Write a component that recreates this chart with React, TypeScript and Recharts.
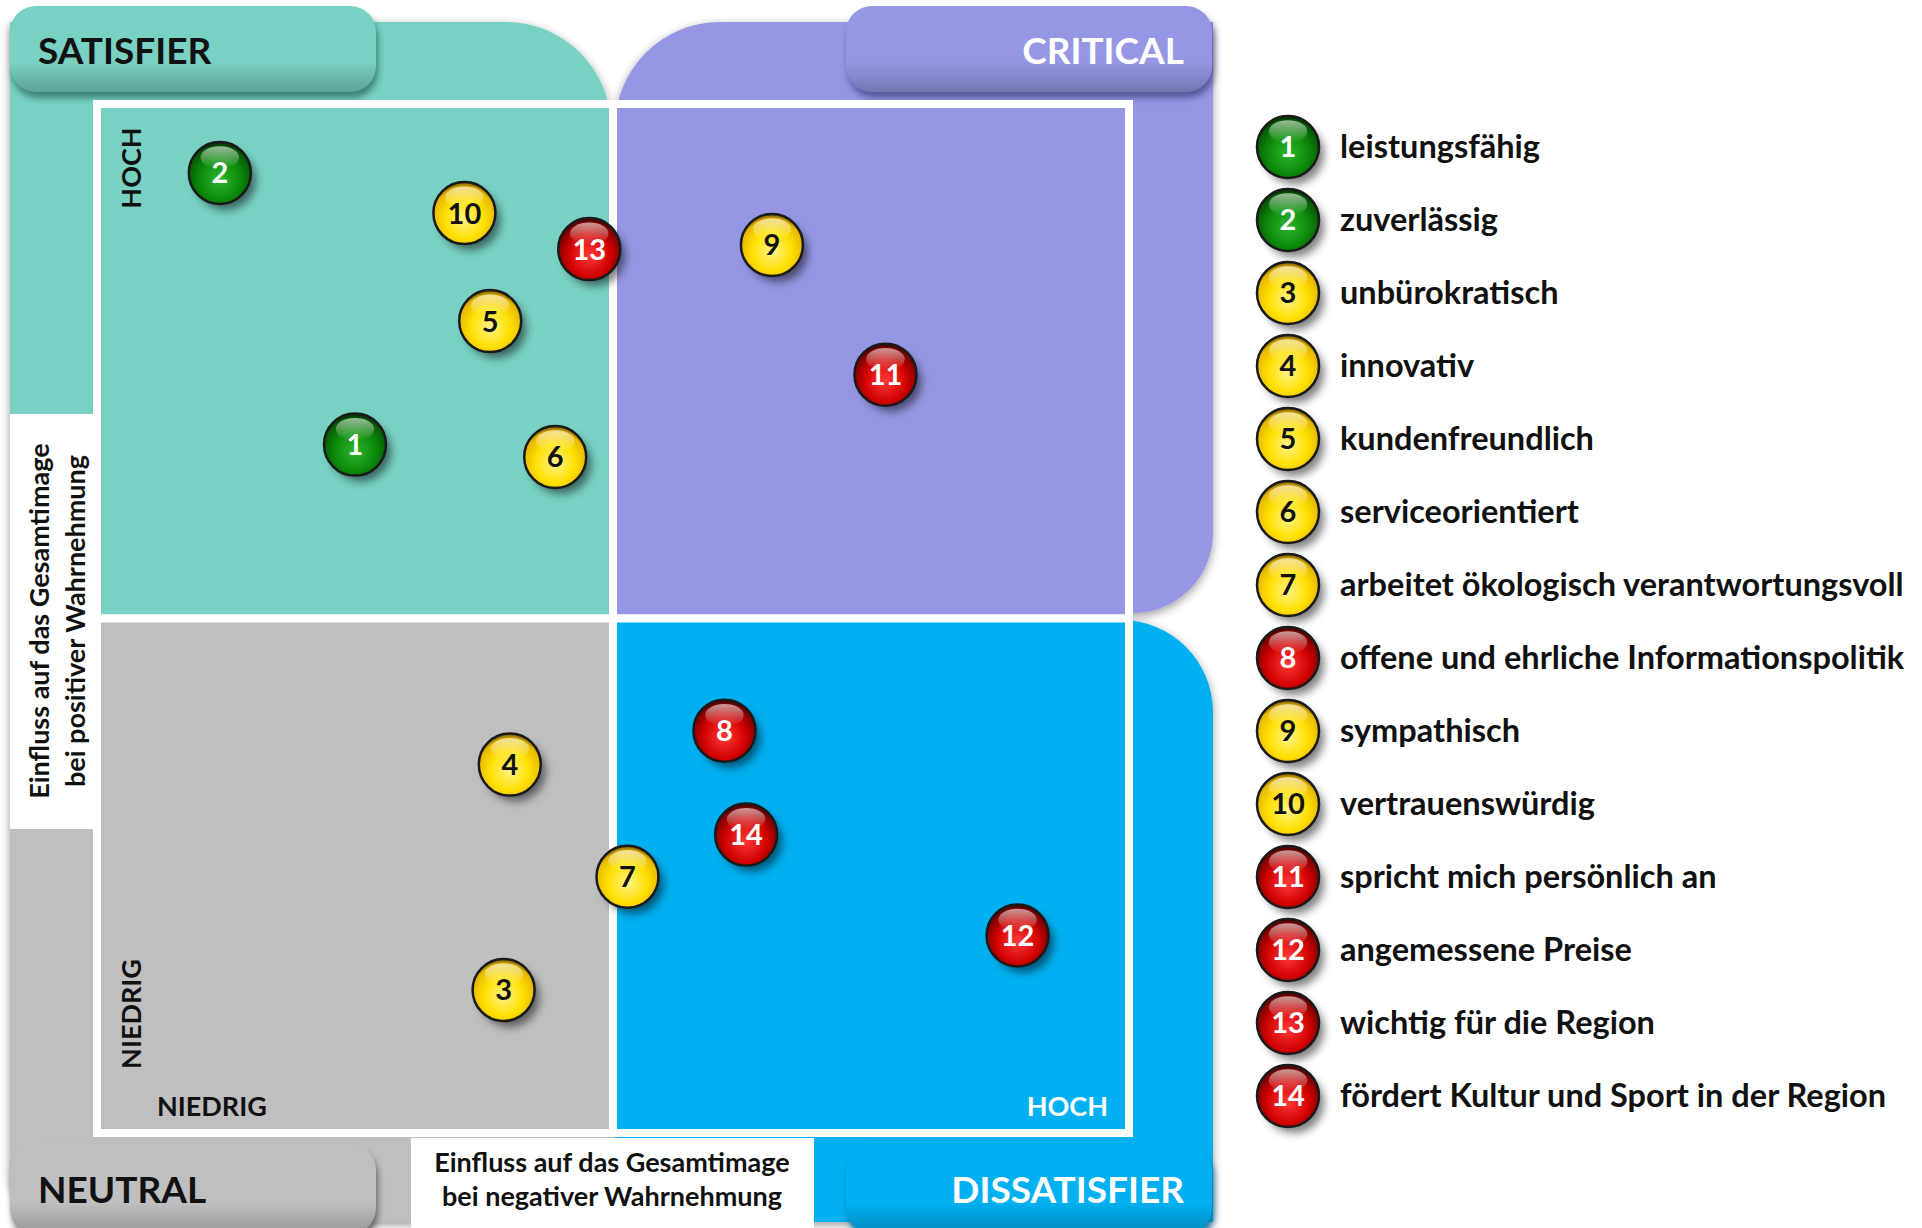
import React from 'react';
import { ScatterChart, Scatter, XAxis, YAxis, ReferenceArea, Legend } from 'recharts';

// ---------- data ----------
const itemIds = [1, 2, 3, 4, 5, 6, 7, 8, 9, 10, 11, 12, 13, 14];
const itemLabels = [
  'leistungsfähig',
  'zuverlässig',
  'unbürokratisch',
  'innovativ',
  'kundenfreundlich',
  'serviceorientiert',
  'arbeitet ökologisch verantwortungsvoll',
  'offene und ehrliche Informationspolitik',
  'sympathisch',
  'vertrauenswürdig',
  'spricht mich persönlich an',
  'angemessene Preise',
  'wichtig für die Region',
  'fördert Kultur und Sport in der Region',
];
const itemColors = ['green', 'green', 'yellow', 'yellow', 'yellow', 'yellow', 'yellow', 'red', 'yellow', 'yellow', 'red', 'red', 'red', 'red'];
// x: Einfluss bei negativer Wahrnehmung, y: Einfluss bei positiver Wahrnehmung (0..10)
const xValues = [2.5, 1.19, 3.94, 4.0, 3.81, 4.44, 5.14, 6.08, 6.54, 3.56, 7.64, 8.92, 4.77, 6.29];
const yValues = [6.69, 9.33, 1.39, 3.58, 7.89, 6.57, 2.49, 3.91, 8.63, 8.94, 7.37, 1.92, 8.59, 2.9];

const quadrantNames = ['SATISFIER', 'CRITICAL', 'NEUTRAL', 'DISSATISFIER'];
const levelLabels = ['NIEDRIG', 'HOCH'];
const xAxisTitle = ['Einfluss auf das Gesamtimage', 'bei negativer Wahrnehmung'];
const yAxisTitle = ['Einfluss auf das Gesamtimage', 'bei positiver Wahrnehmung'];
const axisDomain = [0, 10];
const axisMid = 5;

const data = itemIds.map((id, i) => ({ id, x: xValues[i], y: yValues[i], color: itemColors[i], label: itemLabels[i] }));

// ---------- style ----------
const W = 1922;
const H = 1228;
const FONT = 'Lato, "Open Sans", sans-serif';
const TEAL = '#78D1C3';
const PURPLE = '#9597E4';
const GRAY = '#BFBFBF';
const BLUE = '#00B0F0';
const BALL_R = 31;
const numberFill: Record<string, string> = { green: '#ffffff', yellow: '#111111', red: '#ffffff' };

function Ball({ cx, cy, id, color }: { cx: number; cy: number; id: number; color: string }) {
  return (
    <g>
      <circle cx={cx + 6} cy={cy + 7} r={BALL_R - 1} fill="#000" opacity={0.5} filter="url(#ballBlur)" />
      <circle cx={cx} cy={cy} r={BALL_R} fill={`url(#ball-${color})`} stroke="#1a1a1a" strokeWidth={2.5} />
      <ellipse cx={cx} cy={cy - BALL_R * 0.5} rx={BALL_R * 0.62} ry={BALL_R * 0.36} fill="url(#ballHL)" />
      <text
        x={cx}
        y={cy}
        dy="0.36em"
        textAnchor="middle"
        fontFamily={FONT}
        fontWeight={700}
        fontSize={29}
        fill={numberFill[color]}
      >
        {id}
      </text>
    </g>
  );
}

const renderLegend = () => (
  <svg width={672} height={1040} style={{ overflow: 'visible', display: 'block' }}>
    {data.map((d, i) => (
      <g key={d.id}>
        <Ball cx={38} cy={42 + i * 73} id={d.id} color={d.color} />
        <text x={90} y={42 + i * 73} dy="0.35em" fontFamily={FONT} fontWeight={700} fontSize={32.5} fill="#111">
          {d.label}
        </text>
      </g>
    ))}
  </svg>
);

function LabelBox({ x, y, w, h, fill, dark }: { x: number; y: number; w: number; h: number; fill: string; dark: string }) {
  return (
    <g>
      <rect x={x + 2} y={y + 6} width={w} height={h} rx={26} fill={dark} opacity={0.8} filter="url(#boxBlur)" />
      <rect x={x} y={y} width={w} height={h} rx={26} fill={fill} />
      <rect x={x} y={y} width={w} height={h} rx={26} fill="url(#bevel)" />
    </g>
  );
}

export default function App() {
  const txt = { fontFamily: FONT, fontWeight: 700 } as const;
  return (
    <div style={{ position: 'absolute', left: 0, top: 0, width: W, height: H, background: '#fff', overflow: 'hidden' }}>
      {/* back layer */}
      <svg width={W} height={H} style={{ position: 'absolute', left: 0, top: 0 }}>
        <defs>
          <filter id="outerShadow" x="-10%" y="-10%" width="120%" height="120%">
            <feDropShadow dx="0" dy="3" stdDeviation="5" floodColor="#000" floodOpacity="0.4" />
          </filter>
          <filter id="boxBlur" x="-10%" y="-20%" width="120%" height="140%">
            <feGaussianBlur stdDeviation="3" />
          </filter>
          <filter id="ballBlur" x="-50%" y="-50%" width="200%" height="200%">
            <feGaussianBlur stdDeviation="4" />
          </filter>
          <linearGradient id="bevel" x1="0" y1="0" x2="0" y2="1">
            <stop offset="0.65" stopColor="#000" stopOpacity="0" />
            <stop offset="1" stopColor="#000" stopOpacity="0.22" />
          </linearGradient>
          <radialGradient id="ball-green" cx="50%" cy="60%" r="58%">
            <stop offset="0" stopColor="#2DB52D" />
            <stop offset="0.6" stopColor="#0B880B" />
            <stop offset="0.9" stopColor="#055A05" />
            <stop offset="1" stopColor="#033303" />
          </radialGradient>
          <radialGradient id="ball-yellow" cx="50%" cy="60%" r="58%">
            <stop offset="0" stopColor="#FFF38A" />
            <stop offset="0.55" stopColor="#FFE000" />
            <stop offset="0.88" stopColor="#E8BA00" />
            <stop offset="1" stopColor="#8A6800" />
          </radialGradient>
          <radialGradient id="ball-red" cx="50%" cy="60%" r="58%">
            <stop offset="0" stopColor="#FF3A3A" />
            <stop offset="0.6" stopColor="#D00000" />
            <stop offset="0.9" stopColor="#800000" />
            <stop offset="1" stopColor="#4A0000" />
          </radialGradient>
          <linearGradient id="ballHL" x1="0" y1="0" x2="0" y2="1">
            <stop offset="0" stopColor="#fff" stopOpacity="0.6" />
            <stop offset="1" stopColor="#fff" stopOpacity="0" />
          </linearGradient>
        </defs>

        <g filter="url(#outerShadow)">
          <path d="M10 22 H506 A105 105 0 0 1 611 127 V620 H10 Z" fill={TEAL} />
          <path d="M615 127 A105 105 0 0 1 720 22 H1213 V533 A80 80 0 0 1 1133 613 H615 Z" fill={PURPLE} />
          <path d="M10 620 H611 V1222 H60 A50 50 0 0 1 10 1172 Z" fill={GRAY} />
          <path d="M615 620 H1121 A92 92 0 0 1 1213 712 V1222 H615 Z" fill={BLUE} />
        </g>

        {/* axis title boxes */}
        <rect x={10} y={414} width={83} height={415} fill="#fff" />
        <rect x={411} y={1138} width={403} height={90} fill="#fff" />

        {/* quadrant name boxes */}
        <LabelBox x={10} y={6} w={366} h={86} fill={TEAL} dark="#2E6F66" />
        <LabelBox x={846} y={6} w={366} h={86} fill={PURPLE} dark="#4A4C8A" />
        <LabelBox x={10} y={1144} w={366} h={90} fill={GRAY} dark="#555" />
        <LabelBox x={846} y={1144} w={366} h={90} fill={BLUE} dark="#006A94" />
      </svg>

      {/* chart */}
      <div style={{ position: 'absolute', left: 0, top: 0 }}>
        <ScatterChart width={W} height={H} margin={{ top: 104, right: 793, bottom: 95, left: 97 }}>
          <XAxis type="number" dataKey="x" domain={axisDomain} hide />
          <YAxis type="number" dataKey="y" domain={axisDomain} hide />
          <ReferenceArea x1={axisDomain[0]} x2={axisMid} y1={axisMid} y2={axisDomain[1]} fill={TEAL} fillOpacity={1} stroke="#fff" strokeWidth={8} />
          <ReferenceArea x1={axisMid} x2={axisDomain[1]} y1={axisMid} y2={axisDomain[1]} fill={PURPLE} fillOpacity={1} stroke="#fff" strokeWidth={8} />
          <ReferenceArea x1={axisDomain[0]} x2={axisMid} y1={axisDomain[0]} y2={axisMid} fill={GRAY} fillOpacity={1} stroke="#fff" strokeWidth={8} />
          <ReferenceArea x1={axisMid} x2={axisDomain[1]} y1={axisDomain[0]} y2={axisMid} fill={BLUE} fillOpacity={1} stroke="#fff" strokeWidth={8} />
          <Scatter
            data={data}
            dataKey="y"
            isAnimationActive={false}
            shape={(p: any) => <Ball cx={p.cx} cy={p.cy} id={p.payload.id} color={p.payload.color} />}
          />
          <Legend
            layout="horizontal"
            verticalAlign="middle"
            align="center"
            content={renderLegend}
            wrapperStyle={{ position: 'absolute', left: 1250, top: 105, width: 672, height: 1040 }}
          />
        </ScatterChart>
      </div>

      {/* text overlay */}
      <svg width={W} height={H} style={{ position: 'absolute', left: 0, top: 0, pointerEvents: 'none' }}>
        <text x={38} y={51} dy="0.36em" fontSize={37} fill="#111" {...txt}>{quadrantNames[0]}</text>
        <text x={1184} y={51} dy="0.36em" fontSize={37} fill="#fff" textAnchor="end" {...txt}>{quadrantNames[1]}</text>
        <text x={38} y={1190} dy="0.36em" fontSize={37} fill="#111" {...txt}>{quadrantNames[2]}</text>
        <text x={1184} y={1190} dy="0.36em" fontSize={37} fill="#fff" textAnchor="end" {...txt}>{quadrantNames[3]}</text>

        <text transform="translate(131,168) rotate(-90)" dy="0.36em" fontSize={27} fill="#111" textAnchor="middle" {...txt}>{levelLabels[1]}</text>
        <text transform="translate(131,1014) rotate(-90)" dy="0.36em" fontSize={27} fill="#111" textAnchor="middle" {...txt}>{levelLabels[0]}</text>
        <text x={157} y={1106} dy="0.36em" fontSize={27} fill="#111" {...txt}>{levelLabels[0]}</text>
        <text x={1108} y={1106} dy="0.36em" fontSize={27} fill="#fff" textAnchor="end" {...txt}>{levelLabels[1]}</text>

        <text x={612} y={1162} dy="0.36em" fontSize={27} fill="#111" textAnchor="middle" {...txt}>{xAxisTitle[0]}</text>
        <text x={612} y={1196} dy="0.36em" fontSize={27} fill="#111" textAnchor="middle" {...txt}>{xAxisTitle[1]}</text>
        <text transform="translate(39,621) rotate(-90)" dy="0.36em" fontSize={27} fill="#111" textAnchor="middle" {...txt}>{yAxisTitle[0]}</text>
        <text transform="translate(75,621) rotate(-90)" dy="0.36em" fontSize={27} fill="#111" textAnchor="middle" {...txt}>{yAxisTitle[1]}</text>
      </svg>
    </div>
  );
}
